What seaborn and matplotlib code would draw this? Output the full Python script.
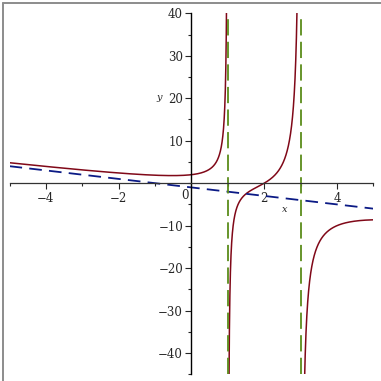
import numpy as np
import pandas as pd
import matplotlib.pyplot as plt
import seaborn as sns
from matplotlib.lines import Line2D
from matplotlib.ticker import MultipleLocator

# rational function: f(x) = num(x) / ((x - 1)(x - 3))
num_coeffs = [-1, 3, -5, 6]
pole_x = [1, 3]
slant_line = [-1, -1]          # slope, intercept of oblique asymptote
x_range = [-5, 5]
y_range = [-45, 40]
x_tick_labels = [-4, -2, 2, 4]
y_tick_labels = [-40, -30, -20, -10, 10, 20, 30, 40]

sns.set_style("white")
plt.rcParams['font.family'] = ['DejaVu Serif']
plt.rcParams['axes.unicode_minus'] = True

fig = plt.figure(figsize=(3.81, 3.81), dpi=100)
ax = fig.add_axes([0.025, 0.0176, 0.955, 0.9475])

def f(x):
    den = np.ones_like(x)
    for p in pole_x:
        den = den * (x - p)
    return np.polyval(num_coeffs, x) / den

# curve, one piece between each pair of poles
edges = [x_range[0]] + pole_x + [x_range[1]]
for a, b in zip(edges[:-1], edges[1:]):
    xs = np.linspace(a + 1e-4, b - 1e-4, 4000)
    seg = pd.DataFrame({'x': xs, 'y': f(xs)})
    sns.lineplot(data=seg, x='x', y='y', color='#800818', lw=1.1, ax=ax, sort=False)

# oblique asymptote
xl = np.array(x_range, dtype=float)
sns.lineplot(x=xl, y=slant_line[0] * xl + slant_line[1], color='#0b1a85', lw=1.3,
             ax=ax, dashes=False, linestyle=(0, (7, 4)))

# vertical asymptotes
for p in pole_x:
    ax.plot([p, p], y_range, color='#5b8c1a', lw=1.3, linestyle=(0, (9, 3.5)))

ax.set_xlim(x_range)
ax.set_ylim(y_range)

for s in ['top', 'right']:
    ax.spines[s].set_visible(False)
ax.spines['left'].set_position(('data', 0))
ax.spines['bottom'].set_position(('data', 0))
ax.spines['left'].set_color('black')
ax.spines['bottom'].set_color('#333333')
ax.spines['left'].set_linewidth(1.0)
ax.spines['bottom'].set_linewidth(0.9)

ax.set_xticks(x_tick_labels)
ax.set_xticklabels([str(v).replace('-', '\u2212') for v in x_tick_labels])
ax.xaxis.set_minor_locator(MultipleLocator(1))
ax.set_yticks(y_tick_labels)
ax.set_yticklabels([str(v).replace('-', '\u2212') for v in y_tick_labels])
ax.yaxis.set_minor_locator(MultipleLocator(5))
ax.tick_params(which='major', direction='out', length=4, width=0.8, labelsize=8.5,
               bottom=True, left=True, pad=2)
ax.tick_params(which='minor', direction='out', length=2, width=0.8,
               bottom=True, left=True)
ax.text(-0.08, -1.3, '0', ha='right', va='top', fontsize=8.5)
ax.set_xlabel('')
ax.set_ylabel('')
ax.text(2.55, -6.2, 'x', fontsize=7, style='italic', ha='center', va='center')
ax.text(-0.9, 20.2, 'y', fontsize=7, style='italic', ha='center', va='center')

# grey frame on left and top edges
fig.add_artist(Line2D([0.009, 0.009], [0, 0.991], color='#8c8c8c', lw=1.4))
fig.add_artist(Line2D([0.009, 1], [0.991, 0.991], color='#8c8c8c', lw=1.4))

plt.savefig('out.png', dpi=100)
